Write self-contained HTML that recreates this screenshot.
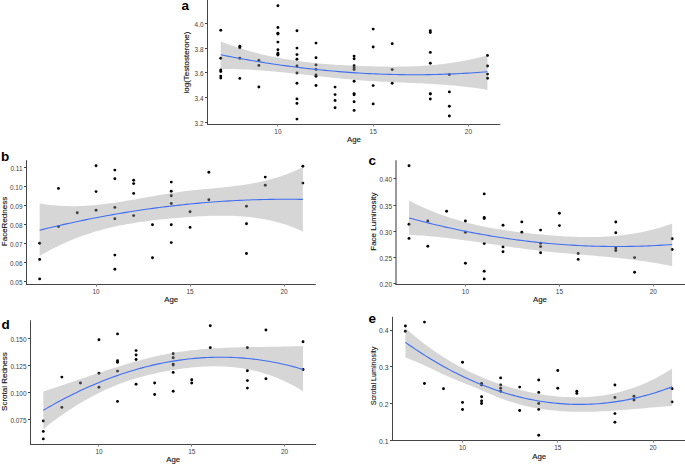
<!DOCTYPE html>
<html><head><meta charset="utf-8"><style>
html,body{margin:0;padding:0;background:#fff;}
svg{display:block;}
.tk{font-family:"Liberation Sans",sans-serif;font-size:6.45px;fill:#404040;}
.ti{font-family:"Liberation Sans",sans-serif;font-size:7.8px;fill:#111;stroke:#111;stroke-width:0.12px;}
.pl{font-family:"Liberation Sans",sans-serif;font-size:13.5px;font-weight:bold;fill:#000;}
</style></head><body>
<svg width="685" height="465" viewBox="0 0 685 465">
<rect width="685" height="465" fill="#fff"/>
<circle cx="220.76" cy="30.30" r="1.45"/>
<circle cx="220.76" cy="58.20" r="1.45"/>
<circle cx="220.76" cy="70.00" r="1.45"/>
<circle cx="220.76" cy="71.50" r="1.45"/>
<circle cx="220.76" cy="76.10" r="1.45"/>
<circle cx="220.76" cy="78.10" r="1.45"/>
<circle cx="239.81" cy="46.30" r="1.45"/>
<circle cx="239.81" cy="47.70" r="1.45"/>
<circle cx="239.81" cy="58.20" r="1.45"/>
<circle cx="239.81" cy="78.40" r="1.45"/>
<circle cx="258.86" cy="60.40" r="1.45"/>
<circle cx="258.86" cy="65.40" r="1.45"/>
<circle cx="258.86" cy="87.00" r="1.45"/>
<circle cx="277.91" cy="5.70" r="1.45"/>
<circle cx="277.91" cy="27.50" r="1.45"/>
<circle cx="277.91" cy="33.30" r="1.45"/>
<circle cx="277.91" cy="34.00" r="1.45"/>
<circle cx="277.91" cy="42.10" r="1.45"/>
<circle cx="277.91" cy="49.70" r="1.45"/>
<circle cx="277.91" cy="53.10" r="1.45"/>
<circle cx="277.91" cy="54.20" r="1.45"/>
<circle cx="277.91" cy="55.10" r="1.45"/>
<circle cx="296.96" cy="30.80" r="1.45"/>
<circle cx="296.96" cy="48.10" r="1.45"/>
<circle cx="296.96" cy="54.60" r="1.45"/>
<circle cx="296.96" cy="59.30" r="1.45"/>
<circle cx="296.96" cy="66.00" r="1.45"/>
<circle cx="296.96" cy="73.00" r="1.45"/>
<circle cx="296.96" cy="83.30" r="1.45"/>
<circle cx="296.96" cy="98.90" r="1.45"/>
<circle cx="296.96" cy="103.40" r="1.45"/>
<circle cx="296.96" cy="119.10" r="1.45"/>
<circle cx="316.01" cy="43.10" r="1.45"/>
<circle cx="316.01" cy="57.70" r="1.45"/>
<circle cx="316.01" cy="64.90" r="1.45"/>
<circle cx="316.01" cy="69.40" r="1.45"/>
<circle cx="316.01" cy="75.00" r="1.45"/>
<circle cx="316.01" cy="76.20" r="1.45"/>
<circle cx="316.01" cy="85.50" r="1.45"/>
<circle cx="335.06" cy="87.10" r="1.45"/>
<circle cx="335.06" cy="94.60" r="1.45"/>
<circle cx="335.06" cy="100.50" r="1.45"/>
<circle cx="335.06" cy="107.70" r="1.45"/>
<circle cx="354.11" cy="56.10" r="1.45"/>
<circle cx="354.11" cy="58.70" r="1.45"/>
<circle cx="354.11" cy="65.80" r="1.45"/>
<circle cx="354.11" cy="67.80" r="1.45"/>
<circle cx="354.11" cy="69.60" r="1.45"/>
<circle cx="354.11" cy="81.20" r="1.45"/>
<circle cx="354.11" cy="93.60" r="1.45"/>
<circle cx="354.11" cy="94.80" r="1.45"/>
<circle cx="354.11" cy="101.80" r="1.45"/>
<circle cx="354.11" cy="110.40" r="1.45"/>
<circle cx="373.16" cy="29.10" r="1.45"/>
<circle cx="373.16" cy="47.00" r="1.45"/>
<circle cx="373.16" cy="85.60" r="1.45"/>
<circle cx="373.16" cy="103.90" r="1.45"/>
<circle cx="392.21" cy="43.70" r="1.45"/>
<circle cx="392.21" cy="69.60" r="1.45"/>
<circle cx="392.21" cy="83.30" r="1.45"/>
<circle cx="430.31" cy="30.80" r="1.45"/>
<circle cx="430.31" cy="32.50" r="1.45"/>
<circle cx="430.31" cy="52.40" r="1.45"/>
<circle cx="430.31" cy="63.30" r="1.45"/>
<circle cx="430.31" cy="93.60" r="1.45"/>
<circle cx="430.31" cy="94.10" r="1.45"/>
<circle cx="430.31" cy="99.00" r="1.45"/>
<circle cx="449.36" cy="74.60" r="1.45"/>
<circle cx="449.36" cy="91.90" r="1.45"/>
<circle cx="449.36" cy="106.20" r="1.45"/>
<circle cx="449.36" cy="116.00" r="1.45"/>
<circle cx="487.46" cy="55.50" r="1.45"/>
<circle cx="487.46" cy="66.00" r="1.45"/>
<circle cx="487.46" cy="74.10" r="1.45"/>
<circle cx="487.46" cy="78.30" r="1.45"/>
<path d="M220.76,41.39 L224.14,42.70 L227.51,43.97 L230.89,45.19 L234.26,46.36 L237.64,47.49 L241.02,48.57 L244.39,49.61 L247.77,50.60 L251.14,51.56 L254.52,52.47 L257.90,53.34 L261.27,54.18 L264.65,54.98 L268.02,55.74 L271.40,56.46 L274.78,57.15 L278.15,57.80 L281.53,58.43 L284.90,59.02 L288.28,59.58 L291.65,60.10 L295.03,60.60 L298.41,61.08 L301.78,61.52 L305.16,61.94 L308.53,62.33 L311.91,62.70 L315.29,63.05 L318.66,63.38 L322.04,63.68 L325.41,63.96 L328.79,64.22 L332.17,64.47 L335.54,64.70 L338.92,64.91 L342.29,65.11 L345.67,65.29 L349.05,65.46 L352.42,65.61 L355.80,65.76 L359.17,65.89 L362.55,66.02 L365.93,66.13 L369.30,66.24 L372.68,66.34 L376.05,66.42 L379.43,66.50 L382.81,66.56 L386.18,66.60 L389.56,66.63 L392.93,66.64 L396.31,66.64 L399.69,66.61 L403.06,66.57 L406.44,66.50 L409.81,66.41 L413.19,66.29 L416.57,66.15 L419.94,65.98 L423.32,65.79 L426.69,65.57 L430.07,65.31 L433.44,65.03 L436.82,64.71 L440.20,64.36 L443.57,63.97 L446.95,63.55 L450.32,63.09 L453.70,62.59 L457.08,62.06 L460.45,61.48 L463.83,60.86 L467.20,60.20 L470.58,59.49 L473.96,58.74 L477.33,57.94 L480.71,57.09 L484.08,56.20 L487.46,55.25 L487.46,89.94 L484.08,89.37 L480.71,88.82 L477.33,88.32 L473.96,87.84 L470.58,87.39 L467.20,86.98 L463.83,86.59 L460.45,86.22 L457.08,85.88 L453.70,85.57 L450.32,85.27 L446.95,85.00 L443.57,84.74 L440.20,84.50 L436.82,84.27 L433.44,84.06 L430.07,83.87 L426.69,83.68 L423.32,83.51 L419.94,83.34 L416.57,83.18 L413.19,83.03 L409.81,82.88 L406.44,82.73 L403.06,82.58 L399.69,82.44 L396.31,82.29 L392.93,82.14 L389.56,81.98 L386.18,81.82 L382.81,81.66 L379.43,81.48 L376.05,81.29 L372.68,81.09 L369.30,80.88 L365.93,80.66 L362.55,80.42 L359.17,80.16 L355.80,79.89 L352.42,79.60 L349.05,79.30 L345.67,78.99 L342.29,78.66 L338.92,78.33 L335.54,77.99 L332.17,77.64 L328.79,77.28 L325.41,76.92 L322.04,76.55 L318.66,76.18 L315.29,75.81 L311.91,75.44 L308.53,75.07 L305.16,74.69 L301.78,74.32 L298.41,73.96 L295.03,73.60 L291.65,73.24 L288.28,72.89 L284.90,72.54 L281.53,72.21 L278.15,71.88 L274.78,71.57 L271.40,71.27 L268.02,70.98 L264.65,70.70 L261.27,70.44 L257.90,70.20 L254.52,69.97 L251.14,69.76 L247.77,69.58 L244.39,69.41 L241.02,69.26 L237.64,69.14 L234.26,69.04 L230.89,68.96 L227.51,68.91 L224.14,68.89 L220.76,68.90 Z" fill="#999999" fill-opacity="0.4"/>
<path d="M220.76,54.80 L224.14,55.48 L227.51,56.14 L230.89,56.78 L234.26,57.42 L237.64,58.05 L241.02,58.67 L244.39,59.27 L247.77,59.87 L251.14,60.45 L254.52,61.02 L257.90,61.58 L261.27,62.13 L264.65,62.67 L268.02,63.20 L271.40,63.71 L274.78,64.22 L278.15,64.71 L281.53,65.19 L284.90,65.66 L288.28,66.12 L291.65,66.57 L295.03,67.01 L298.41,67.43 L301.78,67.84 L305.16,68.24 L308.53,68.63 L311.91,69.01 L315.29,69.38 L318.66,69.73 L322.04,70.07 L325.41,70.40 L328.79,70.72 L332.17,71.03 L335.54,71.32 L338.92,71.61 L342.29,71.88 L345.67,72.14 L349.05,72.38 L352.42,72.62 L355.80,72.84 L359.17,73.05 L362.55,73.25 L365.93,73.44 L369.30,73.61 L372.68,73.77 L376.05,73.92 L379.43,74.06 L382.81,74.18 L386.18,74.29 L389.56,74.39 L392.93,74.48 L396.31,74.55 L399.69,74.61 L403.06,74.66 L406.44,74.70 L409.81,74.72 L413.19,74.73 L416.57,74.73 L419.94,74.72 L423.32,74.69 L426.69,74.65 L430.07,74.60 L433.44,74.53 L436.82,74.45 L440.20,74.36 L443.57,74.25 L446.95,74.14 L450.32,74.01 L453.70,73.86 L457.08,73.70 L460.45,73.53 L463.83,73.35 L467.20,73.15 L470.58,72.94 L473.96,72.72 L477.33,72.48 L480.71,72.23 L484.08,71.97 L487.46,71.69" fill="none" stroke="#3f6ef0" stroke-width="1.1"/>
<line x1="207.50" y1="0.00" x2="207.50" y2="125.00" stroke="#444444" stroke-width="1"/>
<line x1="207.00" y1="124.50" x2="500.30" y2="124.50" stroke="#444444" stroke-width="1"/>
<line x1="205.00" y1="122.50" x2="207.50" y2="122.50" stroke="#444444" stroke-width="1"/>
<text x="203.50" y="126.20" text-anchor="end" class="tk" style="font-size:6.45px">3.2</text>
<line x1="205.00" y1="97.50" x2="207.50" y2="97.50" stroke="#444444" stroke-width="1"/>
<text x="203.50" y="101.30" text-anchor="end" class="tk" style="font-size:6.45px">3.4</text>
<line x1="205.00" y1="72.50" x2="207.50" y2="72.50" stroke="#444444" stroke-width="1"/>
<text x="203.50" y="76.40" text-anchor="end" class="tk" style="font-size:6.45px">3.6</text>
<line x1="205.00" y1="48.50" x2="207.50" y2="48.50" stroke="#444444" stroke-width="1"/>
<text x="203.50" y="51.50" text-anchor="end" class="tk" style="font-size:6.45px">3.8</text>
<line x1="205.00" y1="23.50" x2="207.50" y2="23.50" stroke="#444444" stroke-width="1"/>
<text x="203.50" y="26.60" text-anchor="end" class="tk" style="font-size:6.45px">4.0</text>
<line x1="277.50" y1="124.50" x2="277.50" y2="126.70" stroke="#888" stroke-width="1"/>
<text x="277.91" y="134.10" text-anchor="middle" class="tk">10</text>
<line x1="373.50" y1="124.50" x2="373.50" y2="126.70" stroke="#888" stroke-width="1"/>
<text x="373.16" y="134.10" text-anchor="middle" class="tk">15</text>
<line x1="468.50" y1="124.50" x2="468.50" y2="126.70" stroke="#888" stroke-width="1"/>
<text x="468.41" y="134.10" text-anchor="middle" class="tk">20</text>
<text x="353.90" y="142.00" text-anchor="middle" class="ti">Age</text>
<text transform="translate(188.60,62.60) rotate(-90)" text-anchor="middle" class="ti" style="font-size:8px">log(Testosterone)</text>
<text x="181.50" y="9.90" class="pl">a</text>
<circle cx="39.66" cy="243.20" r="1.45"/>
<circle cx="39.66" cy="259.40" r="1.45"/>
<circle cx="39.66" cy="278.90" r="1.45"/>
<circle cx="58.46" cy="188.40" r="1.45"/>
<circle cx="58.46" cy="226.60" r="1.45"/>
<circle cx="77.26" cy="212.70" r="1.45"/>
<circle cx="96.06" cy="165.80" r="1.45"/>
<circle cx="96.06" cy="191.60" r="1.45"/>
<circle cx="96.06" cy="210.30" r="1.45"/>
<circle cx="114.86" cy="170.10" r="1.45"/>
<circle cx="114.86" cy="178.80" r="1.45"/>
<circle cx="114.86" cy="207.40" r="1.45"/>
<circle cx="114.86" cy="218.80" r="1.45"/>
<circle cx="114.86" cy="255.10" r="1.45"/>
<circle cx="114.86" cy="269.20" r="1.45"/>
<circle cx="133.66" cy="180.20" r="1.45"/>
<circle cx="133.66" cy="183.60" r="1.45"/>
<circle cx="133.66" cy="193.40" r="1.45"/>
<circle cx="133.66" cy="215.60" r="1.45"/>
<circle cx="152.46" cy="224.80" r="1.45"/>
<circle cx="152.46" cy="257.80" r="1.45"/>
<circle cx="171.26" cy="182.10" r="1.45"/>
<circle cx="171.26" cy="191.20" r="1.45"/>
<circle cx="171.26" cy="195.70" r="1.45"/>
<circle cx="171.26" cy="203.50" r="1.45"/>
<circle cx="171.26" cy="224.80" r="1.45"/>
<circle cx="171.26" cy="242.60" r="1.45"/>
<circle cx="190.06" cy="211.70" r="1.45"/>
<circle cx="190.06" cy="227.40" r="1.45"/>
<circle cx="208.86" cy="172.30" r="1.45"/>
<circle cx="208.86" cy="199.70" r="1.45"/>
<circle cx="246.46" cy="206.30" r="1.45"/>
<circle cx="246.46" cy="223.70" r="1.45"/>
<circle cx="246.46" cy="253.50" r="1.45"/>
<circle cx="265.26" cy="177.10" r="1.45"/>
<circle cx="265.26" cy="185.30" r="1.45"/>
<circle cx="302.86" cy="166.30" r="1.45"/>
<circle cx="302.86" cy="183.10" r="1.45"/>
<path d="M39.66,203.49 L42.99,204.05 L46.32,204.53 L49.65,204.95 L52.99,205.30 L56.32,205.59 L59.65,205.82 L62.98,205.99 L66.31,206.10 L69.64,206.16 L72.98,206.17 L76.31,206.13 L79.64,206.03 L82.97,205.90 L86.30,205.71 L89.63,205.49 L92.97,205.23 L96.30,204.92 L99.63,204.58 L102.96,204.21 L106.29,203.81 L109.62,203.37 L112.96,202.91 L116.29,202.43 L119.62,201.92 L122.95,201.39 L126.28,200.85 L129.61,200.29 L132.95,199.72 L136.28,199.14 L139.61,198.55 L142.94,197.96 L146.27,197.37 L149.60,196.78 L152.94,196.19 L156.27,195.61 L159.60,195.04 L162.93,194.48 L166.26,193.94 L169.59,193.41 L172.93,192.90 L176.26,192.42 L179.59,191.96 L182.92,191.52 L186.25,191.11 L189.58,190.73 L192.92,190.36 L196.25,190.02 L199.58,189.68 L202.91,189.35 L206.24,189.03 L209.57,188.71 L212.91,188.40 L216.24,188.07 L219.57,187.74 L222.90,187.40 L226.23,187.05 L229.56,186.67 L232.90,186.28 L236.23,185.86 L239.56,185.42 L242.89,184.94 L246.22,184.43 L249.55,183.88 L252.89,183.29 L256.22,182.65 L259.55,181.97 L262.88,181.24 L266.21,180.45 L269.54,179.60 L272.88,178.69 L276.21,177.72 L279.54,176.68 L282.87,175.57 L286.20,174.38 L289.53,173.12 L292.87,171.77 L296.20,170.34 L299.53,168.82 L302.86,167.20 L302.86,231.38 L299.53,229.91 L296.20,228.52 L292.87,227.22 L289.53,226.00 L286.20,224.87 L282.87,223.81 L279.54,222.83 L276.21,221.92 L272.88,221.08 L269.54,220.32 L266.21,219.62 L262.88,218.98 L259.55,218.41 L256.22,217.90 L252.89,217.44 L249.55,217.05 L246.22,216.70 L242.89,216.41 L239.56,216.17 L236.23,215.98 L232.90,215.83 L229.56,215.72 L226.23,215.65 L222.90,215.63 L219.57,215.64 L216.24,215.68 L212.91,215.75 L209.57,215.86 L206.24,215.99 L202.91,216.14 L199.58,216.32 L196.25,216.52 L192.92,216.74 L189.58,216.97 L186.25,217.22 L182.92,217.48 L179.59,217.75 L176.26,218.03 L172.93,218.32 L169.59,218.62 L166.26,218.93 L162.93,219.26 L159.60,219.60 L156.27,219.97 L152.94,220.35 L149.60,220.75 L146.27,221.18 L142.94,221.63 L139.61,222.10 L136.28,222.61 L132.95,223.14 L129.61,223.70 L126.28,224.29 L122.95,224.92 L119.62,225.58 L116.29,226.28 L112.96,227.02 L109.62,227.80 L106.29,228.61 L102.96,229.47 L99.63,230.38 L96.30,231.33 L92.97,232.33 L89.63,233.38 L86.30,234.47 L82.97,235.62 L79.64,236.83 L76.31,238.08 L72.98,239.40 L69.64,240.77 L66.31,242.20 L62.98,243.70 L59.65,245.26 L56.32,246.88 L52.99,248.56 L49.65,250.32 L46.32,252.14 L42.99,254.04 L39.66,256.01 Z" fill="#999999" fill-opacity="0.4"/>
<path d="M39.66,230.19 L42.99,229.37 L46.32,228.56 L49.65,227.76 L52.99,226.97 L56.32,226.19 L59.65,225.42 L62.98,224.66 L66.31,223.91 L69.64,223.18 L72.98,222.45 L76.31,221.74 L79.64,221.03 L82.97,220.34 L86.30,219.66 L89.63,218.99 L92.97,218.33 L96.30,217.68 L99.63,217.05 L102.96,216.42 L106.29,215.80 L109.62,215.20 L112.96,214.61 L116.29,214.02 L119.62,213.45 L122.95,212.89 L126.28,212.34 L129.61,211.81 L132.95,211.28 L136.28,210.76 L139.61,210.26 L142.94,209.77 L146.27,209.28 L149.60,208.81 L152.94,208.35 L156.27,207.90 L159.60,207.47 L162.93,207.04 L166.26,206.63 L169.59,206.22 L172.93,205.83 L176.26,205.45 L179.59,205.08 L182.92,204.72 L186.25,204.37 L189.58,204.04 L192.92,203.71 L196.25,203.40 L199.58,203.10 L202.91,202.80 L206.24,202.53 L209.57,202.26 L212.91,202.00 L216.24,201.76 L219.57,201.52 L222.90,201.30 L226.23,201.09 L229.56,200.89 L232.90,200.70 L236.23,200.52 L239.56,200.36 L242.89,200.21 L246.22,200.06 L249.55,199.93 L252.89,199.81 L256.22,199.71 L259.55,199.61 L262.88,199.53 L266.21,199.45 L269.54,199.39 L272.88,199.34 L276.21,199.30 L279.54,199.28 L282.87,199.26 L286.20,199.26 L289.53,199.27 L292.87,199.29 L296.20,199.32 L299.53,199.36 L302.86,199.42" fill="none" stroke="#3f6ef0" stroke-width="1.1"/>
<line x1="26.50" y1="160.20" x2="26.50" y2="285.00" stroke="#444444" stroke-width="1"/>
<line x1="26.00" y1="284.50" x2="315.80" y2="284.50" stroke="#444444" stroke-width="1"/>
<line x1="24.00" y1="281.50" x2="26.50" y2="281.50" stroke="#444444" stroke-width="1"/>
<text x="22.50" y="284.60" text-anchor="end" class="tk" style="font-size:6.45px">0.05</text>
<line x1="24.00" y1="262.50" x2="26.50" y2="262.50" stroke="#444444" stroke-width="1"/>
<text x="22.50" y="265.60" text-anchor="end" class="tk" style="font-size:6.45px">0.06</text>
<line x1="24.00" y1="243.50" x2="26.50" y2="243.50" stroke="#444444" stroke-width="1"/>
<text x="22.50" y="246.60" text-anchor="end" class="tk" style="font-size:6.45px">0.07</text>
<line x1="24.00" y1="224.50" x2="26.50" y2="224.50" stroke="#444444" stroke-width="1"/>
<text x="22.50" y="227.60" text-anchor="end" class="tk" style="font-size:6.45px">0.08</text>
<line x1="24.00" y1="205.50" x2="26.50" y2="205.50" stroke="#444444" stroke-width="1"/>
<text x="22.50" y="208.60" text-anchor="end" class="tk" style="font-size:6.45px">0.09</text>
<line x1="24.00" y1="186.50" x2="26.50" y2="186.50" stroke="#444444" stroke-width="1"/>
<text x="22.50" y="189.60" text-anchor="end" class="tk" style="font-size:6.45px">0.10</text>
<line x1="24.00" y1="167.50" x2="26.50" y2="167.50" stroke="#444444" stroke-width="1"/>
<text x="22.50" y="170.60" text-anchor="end" class="tk" style="font-size:6.45px">0.11</text>
<line x1="96.50" y1="284.50" x2="96.50" y2="286.70" stroke="#888" stroke-width="1"/>
<text x="96.06" y="294.10" text-anchor="middle" class="tk">10</text>
<line x1="190.50" y1="284.50" x2="190.50" y2="286.70" stroke="#888" stroke-width="1"/>
<text x="190.06" y="294.10" text-anchor="middle" class="tk">15</text>
<line x1="284.50" y1="284.50" x2="284.50" y2="286.70" stroke="#888" stroke-width="1"/>
<text x="284.06" y="294.10" text-anchor="middle" class="tk">20</text>
<text x="171.15" y="302.20" text-anchor="middle" class="ti">Age</text>
<text transform="translate(7.20,221.50) rotate(-90)" text-anchor="middle" class="ti" style="font-size:8px">FaceRedness</text>
<text x="1.00" y="161.40" class="pl">b</text>
<circle cx="409.02" cy="165.80" r="1.45"/>
<circle cx="409.02" cy="224.20" r="1.45"/>
<circle cx="409.02" cy="238.40" r="1.45"/>
<circle cx="427.82" cy="221.00" r="1.45"/>
<circle cx="427.82" cy="246.30" r="1.45"/>
<circle cx="446.61" cy="211.20" r="1.45"/>
<circle cx="465.41" cy="221.00" r="1.45"/>
<circle cx="465.41" cy="232.30" r="1.45"/>
<circle cx="465.41" cy="263.20" r="1.45"/>
<circle cx="484.21" cy="193.90" r="1.45"/>
<circle cx="484.21" cy="217.50" r="1.45"/>
<circle cx="484.21" cy="218.50" r="1.45"/>
<circle cx="484.21" cy="243.60" r="1.45"/>
<circle cx="484.21" cy="271.30" r="1.45"/>
<circle cx="484.21" cy="278.90" r="1.45"/>
<circle cx="503.00" cy="225.20" r="1.45"/>
<circle cx="503.00" cy="246.90" r="1.45"/>
<circle cx="503.00" cy="251.80" r="1.45"/>
<circle cx="521.80" cy="221.90" r="1.45"/>
<circle cx="521.80" cy="232.30" r="1.45"/>
<circle cx="540.59" cy="230.10" r="1.45"/>
<circle cx="540.59" cy="243.20" r="1.45"/>
<circle cx="540.59" cy="246.60" r="1.45"/>
<circle cx="540.59" cy="252.70" r="1.45"/>
<circle cx="559.39" cy="213.30" r="1.45"/>
<circle cx="559.39" cy="225.60" r="1.45"/>
<circle cx="578.19" cy="253.40" r="1.45"/>
<circle cx="578.19" cy="259.40" r="1.45"/>
<circle cx="615.78" cy="222.00" r="1.45"/>
<circle cx="615.78" cy="232.80" r="1.45"/>
<circle cx="615.78" cy="248.10" r="1.45"/>
<circle cx="615.78" cy="250.50" r="1.45"/>
<circle cx="634.57" cy="257.60" r="1.45"/>
<circle cx="634.57" cy="272.20" r="1.45"/>
<circle cx="672.17" cy="238.70" r="1.45"/>
<circle cx="672.17" cy="249.50" r="1.45"/>
<path d="M409.02,200.49 L412.35,202.22 L415.68,203.88 L419.01,205.49 L422.35,207.03 L425.68,208.51 L429.01,209.94 L432.34,211.32 L435.67,212.64 L439.00,213.91 L442.33,215.12 L445.66,216.29 L448.99,217.41 L452.32,218.48 L455.66,219.51 L458.99,220.49 L462.32,221.43 L465.65,222.33 L468.98,223.19 L472.31,224.01 L475.64,224.79 L478.97,225.53 L482.30,226.24 L485.63,226.92 L488.96,227.57 L492.30,228.18 L495.63,228.76 L498.96,229.32 L502.29,229.85 L505.62,230.36 L508.95,230.84 L512.28,231.29 L515.61,231.73 L518.94,232.15 L522.27,232.55 L525.60,232.93 L528.94,233.29 L532.27,233.64 L535.60,233.98 L538.93,234.30 L542.26,234.62 L545.59,234.92 L548.92,235.21 L552.25,235.48 L555.58,235.73 L558.91,235.97 L562.25,236.19 L565.58,236.38 L568.91,236.56 L572.24,236.71 L575.57,236.83 L578.90,236.93 L582.23,237.00 L585.56,237.05 L588.89,237.06 L592.22,237.04 L595.55,236.98 L598.89,236.90 L602.22,236.77 L605.55,236.61 L608.88,236.41 L612.21,236.18 L615.54,235.90 L618.87,235.57 L622.20,235.21 L625.53,234.79 L628.86,234.33 L632.19,233.83 L635.53,233.27 L638.86,232.66 L642.19,232.00 L645.52,231.29 L648.85,230.52 L652.18,229.70 L655.51,228.82 L658.84,227.88 L662.17,226.88 L665.50,225.81 L668.84,224.69 L672.17,223.50 L672.17,266.25 L668.84,265.54 L665.50,264.87 L662.17,264.23 L658.84,263.61 L655.51,263.03 L652.18,262.47 L648.85,261.93 L645.52,261.42 L642.19,260.94 L638.86,260.47 L635.53,260.03 L632.19,259.60 L628.86,259.19 L625.53,258.80 L622.20,258.43 L618.87,258.07 L615.54,257.72 L612.21,257.39 L608.88,257.07 L605.55,256.75 L602.22,256.45 L598.89,256.15 L595.55,255.86 L592.22,255.57 L588.89,255.29 L585.56,255.01 L582.23,254.73 L578.90,254.45 L575.57,254.17 L572.24,253.89 L568.91,253.60 L565.58,253.31 L562.25,253.01 L558.91,252.71 L555.58,252.39 L552.25,252.07 L548.92,251.74 L545.59,251.39 L542.26,251.03 L538.93,250.66 L535.60,250.27 L532.27,249.87 L528.94,249.45 L525.60,249.02 L522.27,248.57 L518.94,248.12 L515.61,247.66 L512.28,247.19 L508.95,246.71 L505.62,246.23 L502.29,245.74 L498.96,245.24 L495.63,244.75 L492.30,244.25 L488.96,243.76 L485.63,243.26 L482.30,242.77 L478.97,242.28 L475.64,241.80 L472.31,241.32 L468.98,240.84 L465.65,240.38 L462.32,239.93 L458.99,239.48 L455.66,239.05 L452.32,238.63 L448.99,238.22 L445.66,237.83 L442.33,237.46 L439.00,237.10 L435.67,236.76 L432.34,236.45 L429.01,236.15 L425.68,235.87 L422.35,235.62 L419.01,235.40 L415.68,235.19 L412.35,235.02 L409.02,234.87 Z" fill="#999999" fill-opacity="0.4"/>
<path d="M409.02,217.92 L412.35,218.82 L415.68,219.72 L419.01,220.59 L422.35,221.46 L425.68,222.30 L429.01,223.14 L432.34,223.96 L435.67,224.76 L439.00,225.55 L442.33,226.32 L445.66,227.09 L448.99,227.83 L452.32,228.56 L455.66,229.28 L458.99,229.98 L462.32,230.67 L465.65,231.34 L468.98,232.00 L472.31,232.65 L475.64,233.27 L478.97,233.89 L482.30,234.49 L485.63,235.08 L488.96,235.65 L492.30,236.20 L495.63,236.74 L498.96,237.27 L502.29,237.78 L505.62,238.28 L508.95,238.77 L512.28,239.23 L515.61,239.69 L518.94,240.13 L522.27,240.55 L525.60,240.96 L528.94,241.36 L532.27,241.74 L535.60,242.11 L538.93,242.46 L542.26,242.80 L545.59,243.12 L548.92,243.43 L552.25,243.72 L555.58,244.00 L558.91,244.26 L562.25,244.51 L565.58,244.74 L568.91,244.96 L572.24,245.17 L575.57,245.36 L578.90,245.54 L582.23,245.70 L585.56,245.84 L588.89,245.98 L592.22,246.09 L595.55,246.20 L598.89,246.28 L602.22,246.36 L605.55,246.42 L608.88,246.46 L612.21,246.49 L615.54,246.50 L618.87,246.50 L622.20,246.49 L625.53,246.46 L628.86,246.41 L632.19,246.35 L635.53,246.28 L638.86,246.19 L642.19,246.09 L645.52,245.97 L648.85,245.84 L652.18,245.69 L655.51,245.53 L658.84,245.35 L662.17,245.16 L665.50,244.95 L668.84,244.73 L672.17,244.49" fill="none" stroke="#3f6ef0" stroke-width="1.1"/>
<line x1="396.00" y1="160.20" x2="396.00" y2="285.00" stroke="#9a9a9a" stroke-width="2"/>
<line x1="395.50" y1="284.50" x2="686.00" y2="284.50" stroke="#444444" stroke-width="1"/>
<line x1="393.50" y1="283.50" x2="396.00" y2="283.50" stroke="#444444" stroke-width="1"/>
<text x="392.00" y="287.10" text-anchor="end" class="tk" style="font-size:6.45px">0.20</text>
<line x1="393.50" y1="257.50" x2="396.00" y2="257.50" stroke="#444444" stroke-width="1"/>
<text x="392.00" y="260.90" text-anchor="end" class="tk" style="font-size:6.45px">0.25</text>
<line x1="393.50" y1="231.50" x2="396.00" y2="231.50" stroke="#444444" stroke-width="1"/>
<text x="392.00" y="234.70" text-anchor="end" class="tk" style="font-size:6.45px">0.30</text>
<line x1="393.50" y1="205.50" x2="396.00" y2="205.50" stroke="#444444" stroke-width="1"/>
<text x="392.00" y="208.50" text-anchor="end" class="tk" style="font-size:6.45px">0.35</text>
<line x1="393.50" y1="178.50" x2="396.00" y2="178.50" stroke="#444444" stroke-width="1"/>
<text x="392.00" y="182.30" text-anchor="end" class="tk" style="font-size:6.45px">0.40</text>
<line x1="465.50" y1="284.50" x2="465.50" y2="286.70" stroke="#888" stroke-width="1"/>
<text x="465.41" y="294.10" text-anchor="middle" class="tk">10</text>
<line x1="559.50" y1="284.50" x2="559.50" y2="286.70" stroke="#888" stroke-width="1"/>
<text x="559.39" y="294.10" text-anchor="middle" class="tk">15</text>
<line x1="653.50" y1="284.50" x2="653.50" y2="286.70" stroke="#888" stroke-width="1"/>
<text x="653.37" y="294.10" text-anchor="middle" class="tk">20</text>
<text x="540.00" y="302.40" text-anchor="middle" class="ti">Age</text>
<text transform="translate(375.70,221.60) rotate(-90)" text-anchor="middle" class="ti" style="font-size:8px">Face Luminosity</text>
<text x="368.50" y="165.00" class="pl">c</text>
<circle cx="43.31" cy="421.00" r="1.45"/>
<circle cx="43.31" cy="431.40" r="1.45"/>
<circle cx="43.31" cy="438.90" r="1.45"/>
<circle cx="61.87" cy="377.10" r="1.45"/>
<circle cx="61.87" cy="407.40" r="1.45"/>
<circle cx="80.42" cy="383.00" r="1.45"/>
<circle cx="98.97" cy="339.70" r="1.45"/>
<circle cx="98.97" cy="373.30" r="1.45"/>
<circle cx="98.97" cy="387.30" r="1.45"/>
<circle cx="117.52" cy="333.90" r="1.45"/>
<circle cx="117.52" cy="360.70" r="1.45"/>
<circle cx="117.52" cy="362.20" r="1.45"/>
<circle cx="117.52" cy="371.10" r="1.45"/>
<circle cx="117.52" cy="401.40" r="1.45"/>
<circle cx="136.07" cy="350.60" r="1.45"/>
<circle cx="136.07" cy="355.00" r="1.45"/>
<circle cx="136.07" cy="359.50" r="1.45"/>
<circle cx="136.07" cy="384.20" r="1.45"/>
<circle cx="154.63" cy="383.00" r="1.45"/>
<circle cx="154.63" cy="394.50" r="1.45"/>
<circle cx="173.18" cy="353.70" r="1.45"/>
<circle cx="173.18" cy="357.70" r="1.45"/>
<circle cx="173.18" cy="364.10" r="1.45"/>
<circle cx="173.18" cy="365.00" r="1.45"/>
<circle cx="173.18" cy="372.40" r="1.45"/>
<circle cx="173.18" cy="391.30" r="1.45"/>
<circle cx="191.73" cy="379.80" r="1.45"/>
<circle cx="191.73" cy="383.00" r="1.45"/>
<circle cx="210.28" cy="325.70" r="1.45"/>
<circle cx="210.28" cy="347.70" r="1.45"/>
<circle cx="247.39" cy="347.70" r="1.45"/>
<circle cx="247.39" cy="370.80" r="1.45"/>
<circle cx="247.39" cy="380.60" r="1.45"/>
<circle cx="247.39" cy="388.10" r="1.45"/>
<circle cx="265.94" cy="330.00" r="1.45"/>
<circle cx="265.94" cy="378.80" r="1.45"/>
<circle cx="303.04" cy="341.80" r="1.45"/>
<circle cx="303.04" cy="369.50" r="1.45"/>
<path d="M43.31,391.47 L46.60,390.42 L49.89,389.35 L53.18,388.27 L56.46,387.18 L59.75,386.08 L63.04,384.97 L66.33,383.86 L69.62,382.75 L72.90,381.63 L76.19,380.51 L79.48,379.39 L82.77,378.27 L86.05,377.16 L89.34,376.04 L92.63,374.94 L95.92,373.83 L99.20,372.74 L102.49,371.65 L105.78,370.58 L109.07,369.51 L112.36,368.46 L115.64,367.42 L118.93,366.40 L122.22,365.40 L125.51,364.41 L128.79,363.44 L132.08,362.49 L135.37,361.57 L138.66,360.66 L141.94,359.78 L145.23,358.93 L148.52,358.10 L151.81,357.30 L155.10,356.54 L158.38,355.80 L161.67,355.09 L164.96,354.42 L168.25,353.78 L171.53,353.18 L174.82,352.62 L178.11,352.09 L181.40,351.60 L184.68,351.14 L187.97,350.72 L191.26,350.32 L194.55,349.96 L197.84,349.63 L201.12,349.32 L204.41,349.04 L207.70,348.79 L210.99,348.55 L214.27,348.34 L217.56,348.15 L220.85,347.98 L224.14,347.83 L227.42,347.70 L230.71,347.58 L234.00,347.47 L237.29,347.38 L240.58,347.29 L243.86,347.22 L247.15,347.16 L250.44,347.10 L253.73,347.05 L257.01,347.00 L260.30,346.95 L263.59,346.91 L266.88,346.87 L270.17,346.82 L273.45,346.77 L276.74,346.72 L280.03,346.67 L283.32,346.60 L286.60,346.53 L289.89,346.45 L293.18,346.36 L296.47,346.26 L299.75,346.14 L303.04,346.01 L303.04,391.30 L299.75,389.28 L296.47,387.36 L293.18,385.53 L289.89,383.80 L286.60,382.17 L283.32,380.62 L280.03,379.17 L276.74,377.81 L273.45,376.53 L270.17,375.33 L266.88,374.22 L263.59,373.19 L260.30,372.24 L257.01,371.37 L253.73,370.57 L250.44,369.85 L247.15,369.20 L243.86,368.62 L240.58,368.11 L237.29,367.67 L234.00,367.29 L230.71,366.98 L227.42,366.73 L224.14,366.54 L220.85,366.41 L217.56,366.33 L214.27,366.31 L210.99,366.34 L207.70,366.43 L204.41,366.56 L201.12,366.74 L197.84,366.97 L194.55,367.24 L191.26,367.55 L187.97,367.91 L184.68,368.30 L181.40,368.73 L178.11,369.20 L174.82,369.70 L171.53,370.23 L168.25,370.79 L164.96,371.39 L161.67,372.02 L158.38,372.69 L155.10,373.40 L151.81,374.14 L148.52,374.93 L145.23,375.76 L141.94,376.63 L138.66,377.55 L135.37,378.52 L132.08,379.53 L128.79,380.60 L125.51,381.72 L122.22,382.89 L118.93,384.11 L115.64,385.40 L112.36,386.74 L109.07,388.14 L105.78,389.61 L102.49,391.13 L99.20,392.72 L95.92,394.38 L92.63,396.10 L89.34,397.89 L86.05,399.73 L82.77,401.64 L79.48,403.60 L76.19,405.62 L72.90,407.69 L69.62,409.83 L66.33,412.01 L63.04,414.24 L59.75,416.54 L56.46,418.90 L53.18,421.33 L49.89,423.84 L46.60,426.45 L43.31,429.15 Z" fill="#999999" fill-opacity="0.4"/>
<path d="M43.31,410.27 L46.60,408.36 L49.89,406.48 L53.18,404.64 L56.46,402.83 L59.75,401.05 L63.04,399.31 L66.33,397.60 L69.62,395.92 L72.90,394.28 L76.19,392.68 L79.48,391.10 L82.77,389.57 L86.05,388.06 L89.34,386.60 L92.63,385.16 L95.92,383.76 L99.20,382.40 L102.49,381.07 L105.78,379.78 L109.07,378.52 L112.36,377.30 L115.64,376.11 L118.93,374.95 L122.22,373.84 L125.51,372.76 L128.79,371.71 L132.08,370.70 L135.37,369.72 L138.66,368.79 L141.94,367.88 L145.23,367.02 L148.52,366.18 L151.81,365.39 L155.10,364.63 L158.38,363.91 L161.67,363.22 L164.96,362.57 L168.25,361.96 L171.53,361.39 L174.82,360.85 L178.11,360.35 L181.40,359.88 L184.68,359.45 L187.97,359.06 L191.26,358.71 L194.55,358.39 L197.84,358.11 L201.12,357.87 L204.41,357.66 L207.70,357.50 L210.99,357.37 L214.27,357.28 L217.56,357.22 L220.85,357.21 L224.14,357.23 L227.42,357.29 L230.71,357.39 L234.00,357.52 L237.29,357.70 L240.58,357.91 L243.86,358.16 L247.15,358.45 L250.44,358.78 L253.73,359.15 L257.01,359.56 L260.30,360.00 L263.59,360.49 L266.88,361.01 L270.17,361.57 L273.45,362.18 L276.74,362.82 L280.03,363.50 L283.32,364.22 L286.60,364.98 L289.89,365.78 L293.18,366.62 L296.47,367.50 L299.75,368.41 L303.04,369.37" fill="none" stroke="#3f6ef0" stroke-width="1.1"/>
<line x1="30.50" y1="320.20" x2="30.50" y2="445.00" stroke="#444444" stroke-width="1"/>
<line x1="30.00" y1="444.50" x2="316.00" y2="444.50" stroke="#444444" stroke-width="1"/>
<line x1="28.00" y1="419.50" x2="30.50" y2="419.50" stroke="#444444" stroke-width="1"/>
<text x="26.50" y="422.89" text-anchor="end" class="tk" style="font-size:6.45px">0.075</text>
<line x1="28.00" y1="392.50" x2="30.50" y2="392.50" stroke="#444444" stroke-width="1"/>
<text x="26.50" y="396.06" text-anchor="end" class="tk" style="font-size:6.45px">0.100</text>
<line x1="28.00" y1="365.50" x2="30.50" y2="365.50" stroke="#444444" stroke-width="1"/>
<text x="26.50" y="369.23" text-anchor="end" class="tk" style="font-size:6.45px">0.125</text>
<line x1="28.00" y1="338.50" x2="30.50" y2="338.50" stroke="#444444" stroke-width="1"/>
<text x="26.50" y="342.40" text-anchor="end" class="tk" style="font-size:6.45px">0.150</text>
<line x1="98.50" y1="444.50" x2="98.50" y2="446.70" stroke="#888" stroke-width="1"/>
<text x="98.97" y="454.10" text-anchor="middle" class="tk">10</text>
<line x1="191.50" y1="444.50" x2="191.50" y2="446.70" stroke="#888" stroke-width="1"/>
<text x="191.73" y="454.10" text-anchor="middle" class="tk">15</text>
<line x1="284.50" y1="444.50" x2="284.50" y2="446.70" stroke="#888" stroke-width="1"/>
<text x="284.49" y="454.10" text-anchor="middle" class="tk">20</text>
<text x="173.25" y="461.80" text-anchor="middle" class="ti">Age</text>
<text transform="translate(7.40,381.60) rotate(-90)" text-anchor="middle" class="ti" style="font-size:8px">Scrotal Redness</text>
<text x="1.50" y="328.80" class="pl">d</text>
<circle cx="405.40" cy="326.00" r="1.45"/>
<circle cx="405.40" cy="331.30" r="1.45"/>
<circle cx="424.44" cy="322.10" r="1.45"/>
<circle cx="424.44" cy="383.50" r="1.45"/>
<circle cx="443.49" cy="388.80" r="1.45"/>
<circle cx="462.54" cy="362.30" r="1.45"/>
<circle cx="462.54" cy="402.40" r="1.45"/>
<circle cx="462.54" cy="409.50" r="1.45"/>
<circle cx="481.59" cy="383.40" r="1.45"/>
<circle cx="481.59" cy="384.90" r="1.45"/>
<circle cx="481.59" cy="396.80" r="1.45"/>
<circle cx="481.59" cy="401.00" r="1.45"/>
<circle cx="481.59" cy="403.50" r="1.45"/>
<circle cx="500.64" cy="377.90" r="1.45"/>
<circle cx="500.64" cy="384.90" r="1.45"/>
<circle cx="500.64" cy="388.20" r="1.45"/>
<circle cx="500.64" cy="391.30" r="1.45"/>
<circle cx="519.68" cy="387.10" r="1.45"/>
<circle cx="519.68" cy="410.50" r="1.45"/>
<circle cx="538.73" cy="380.00" r="1.45"/>
<circle cx="538.73" cy="392.40" r="1.45"/>
<circle cx="538.73" cy="403.50" r="1.45"/>
<circle cx="538.73" cy="409.40" r="1.45"/>
<circle cx="538.73" cy="435.30" r="1.45"/>
<circle cx="557.78" cy="370.50" r="1.45"/>
<circle cx="557.78" cy="388.30" r="1.45"/>
<circle cx="576.83" cy="391.30" r="1.45"/>
<circle cx="576.83" cy="393.40" r="1.45"/>
<circle cx="614.92" cy="385.00" r="1.45"/>
<circle cx="614.92" cy="397.50" r="1.45"/>
<circle cx="614.92" cy="413.60" r="1.45"/>
<circle cx="614.92" cy="422.20" r="1.45"/>
<circle cx="633.97" cy="396.20" r="1.45"/>
<circle cx="633.97" cy="400.10" r="1.45"/>
<circle cx="672.07" cy="388.80" r="1.45"/>
<circle cx="672.07" cy="401.90" r="1.45"/>
<path d="M405.40,328.13 L408.77,331.10 L412.15,333.98 L415.52,336.78 L418.90,339.51 L422.27,342.15 L425.65,344.72 L429.03,347.22 L432.40,349.64 L435.78,351.99 L439.15,354.27 L442.53,356.47 L445.90,358.61 L449.28,360.67 L452.65,362.67 L456.03,364.60 L459.41,366.47 L462.78,368.27 L466.16,370.01 L469.53,371.68 L472.91,373.29 L476.28,374.85 L479.66,376.34 L483.03,377.77 L486.41,379.15 L489.79,380.47 L493.16,381.73 L496.54,382.94 L499.91,384.10 L503.29,385.20 L506.66,386.25 L510.04,387.25 L513.42,388.20 L516.79,389.11 L520.17,389.96 L523.54,390.77 L526.92,391.54 L530.29,392.26 L533.67,392.94 L537.04,393.57 L540.42,394.16 L543.80,394.70 L547.17,395.20 L550.55,395.64 L553.92,396.04 L557.30,396.38 L560.67,396.68 L564.05,396.92 L567.42,397.10 L570.80,397.23 L574.18,397.30 L577.55,397.31 L580.93,397.26 L584.30,397.15 L587.68,396.98 L591.05,396.74 L594.43,396.44 L597.80,396.07 L601.18,395.63 L604.56,395.13 L607.93,394.55 L611.31,393.90 L614.68,393.18 L618.06,392.39 L621.43,391.52 L624.81,390.57 L628.19,389.54 L631.56,388.44 L634.94,387.25 L638.31,385.99 L641.69,384.64 L645.06,383.20 L648.44,381.68 L651.81,380.08 L655.19,378.38 L658.57,376.60 L661.94,374.72 L665.32,372.75 L668.69,370.69 L672.07,368.54 L672.07,406.08 L668.69,406.30 L665.32,406.53 L661.94,406.78 L658.57,407.03 L655.19,407.30 L651.81,407.58 L648.44,407.86 L645.06,408.14 L641.69,408.43 L638.31,408.71 L634.94,409.00 L631.56,409.28 L628.19,409.56 L624.81,409.83 L621.43,410.09 L618.06,410.34 L614.68,410.57 L611.31,410.80 L607.93,411.00 L604.56,411.19 L601.18,411.36 L597.80,411.50 L594.43,411.63 L591.05,411.72 L587.68,411.79 L584.30,411.83 L580.93,411.84 L577.55,411.81 L574.18,411.75 L570.80,411.66 L567.42,411.52 L564.05,411.35 L560.67,411.13 L557.30,410.87 L553.92,410.56 L550.55,410.20 L547.17,409.80 L543.80,409.34 L540.42,408.83 L537.04,408.26 L533.67,407.64 L530.29,406.96 L526.92,406.21 L523.54,405.41 L520.17,404.54 L516.79,403.61 L513.42,402.62 L510.04,401.56 L506.66,400.44 L503.29,399.24 L499.91,397.99 L496.54,396.66 L493.16,395.28 L489.79,393.87 L486.41,392.43 L483.03,390.98 L479.66,389.53 L476.28,388.09 L472.91,386.68 L469.53,385.30 L466.16,383.94 L462.78,382.59 L459.41,381.23 L456.03,379.84 L452.65,378.43 L449.28,376.97 L445.90,375.45 L442.53,373.89 L439.15,372.29 L435.78,370.69 L432.40,369.10 L429.03,367.53 L425.65,366.00 L422.27,364.50 L418.90,363.04 L415.52,361.61 L412.15,360.22 L408.77,358.86 L405.40,357.53 Z" fill="#999999" fill-opacity="0.4"/>
<path d="M405.40,342.37 L408.77,344.74 L412.15,347.07 L415.52,349.35 L418.90,351.58 L422.27,353.77 L425.65,355.91 L429.03,358.01 L432.40,360.06 L435.78,362.06 L439.15,364.02 L442.53,365.93 L445.90,367.80 L449.28,369.61 L452.65,371.39 L456.03,373.11 L459.41,374.80 L462.78,376.43 L466.16,378.02 L469.53,379.56 L472.91,381.06 L476.28,382.51 L479.66,383.91 L483.03,385.27 L486.41,386.58 L489.79,387.84 L493.16,389.06 L496.54,390.23 L499.91,391.36 L503.29,392.44 L506.66,393.47 L510.04,394.46 L513.42,395.40 L516.79,396.29 L520.17,397.14 L523.54,397.94 L526.92,398.69 L530.29,399.40 L533.67,400.06 L537.04,400.67 L540.42,401.24 L543.80,401.76 L547.17,402.24 L550.55,402.66 L553.92,403.05 L557.30,403.38 L560.67,403.67 L564.05,403.91 L567.42,404.10 L570.80,404.25 L574.18,404.35 L577.55,404.41 L580.93,404.41 L584.30,404.37 L587.68,404.29 L591.05,404.15 L594.43,403.97 L597.80,403.75 L601.18,403.47 L604.56,403.15 L607.93,402.79 L611.31,402.37 L614.68,401.91 L618.06,401.40 L621.43,400.85 L624.81,400.24 L628.19,399.59 L631.56,398.90 L634.94,398.15 L638.31,397.36 L641.69,396.52 L645.06,395.64 L648.44,394.71 L651.81,393.73 L655.19,392.70 L658.57,391.63 L661.94,390.51 L665.32,389.34 L668.69,388.12 L672.07,386.86" fill="none" stroke="#3f6ef0" stroke-width="1.1"/>
<line x1="392.50" y1="316.80" x2="392.50" y2="441.00" stroke="#444444" stroke-width="1"/>
<line x1="392.00" y1="440.50" x2="686.00" y2="440.50" stroke="#444444" stroke-width="1"/>
<line x1="390.00" y1="440.50" x2="392.50" y2="440.50" stroke="#444444" stroke-width="1"/>
<text x="388.50" y="443.50" text-anchor="end" class="tk" style="font-size:6.85px">0.1</text>
<line x1="390.00" y1="403.50" x2="392.50" y2="403.50" stroke="#444444" stroke-width="1"/>
<text x="388.50" y="406.80" text-anchor="end" class="tk" style="font-size:6.85px">0.2</text>
<line x1="390.00" y1="366.50" x2="392.50" y2="366.50" stroke="#444444" stroke-width="1"/>
<text x="388.50" y="370.10" text-anchor="end" class="tk" style="font-size:6.85px">0.3</text>
<line x1="390.00" y1="330.50" x2="392.50" y2="330.50" stroke="#444444" stroke-width="1"/>
<text x="388.50" y="333.40" text-anchor="end" class="tk" style="font-size:6.85px">0.4</text>
<line x1="462.50" y1="440.50" x2="462.50" y2="442.70" stroke="#888" stroke-width="1"/>
<text x="462.54" y="450.10" text-anchor="middle" class="tk">10</text>
<line x1="557.50" y1="440.50" x2="557.50" y2="442.70" stroke="#888" stroke-width="1"/>
<text x="557.78" y="450.10" text-anchor="middle" class="tk">15</text>
<line x1="653.50" y1="440.50" x2="653.50" y2="442.70" stroke="#888" stroke-width="1"/>
<text x="653.02" y="450.10" text-anchor="middle" class="tk">20</text>
<text x="539.25" y="458.80" text-anchor="middle" class="ti">Age</text>
<text transform="translate(376.40,376.00) rotate(-90)" text-anchor="middle" class="ti" style="font-size:7.2px">Scrotal Luminosity</text>
<text x="368.50" y="323.40" class="pl">e</text>
</svg>
</body></html>
